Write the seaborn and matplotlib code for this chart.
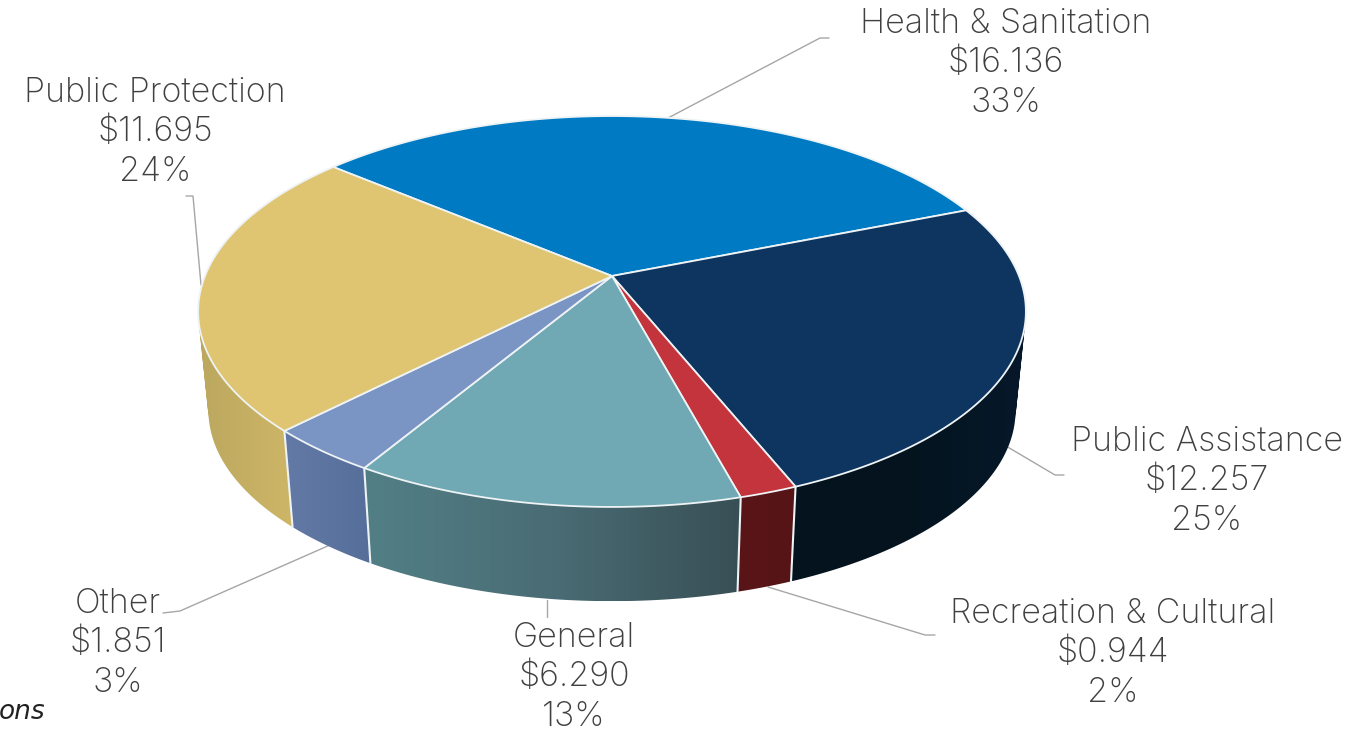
import numpy as np
import matplotlib
matplotlib.use("Agg")
import matplotlib.pyplot as plt
from matplotlib.colors import to_rgb
from matplotlib.patches import PathPatch
from matplotlib.path import Path
import seaborn as sns

# values in $ billions, clockwise from the start of Health & Sanitation
categories = ["Health & Sanitation", "Public Assistance", "Recreation & Cultural",
              "General", "Other", "Public Protection"]
amounts = [16.136, 12.257, 0.944, 6.290, 1.851, 11.695]
percents = [33, 25, 2, 13, 3, 24]

top_colors = ["#007bc3", "#0e3560", "#c4343c", "#70a8b4", "#7a94c4", "#dfc572"]
# wall shading, left to right
wall_colors = [["#005a90", "#005a90"],
               ["#04131d", "#04141f", "#06182a"],
               ["#5a1518", "#561417"],
               ["#527f86", "#4a6c74", "#384f55"],
               ["#627aa5", "#566f9a"],
               ["#bba75f", "#ceb667"]]

# label centres and leader lines, in pixels of the picture
label_x = [1006, 1207, 1113, 574, 118, 155]
label_y = [24, 442, 614, 638, 604, 93]
leaders = [[(668, 118), (820, 38), (829, 38)],
           [(1006, 446), (1055, 475), (1064, 475)],
           [(768, 587), (925, 635), (935, 635)],
           [(547, 600), (547, 617)],
           [(330, 545), (180, 611), (163, 613)],
           [(201, 285), (193, 196), (186, 196)]]

START_ANGLE = 139.9
CX, CY, BOTTOM_Y = 612, 276, 376
SCALE_X, SCALE_Y, TILT = 407, 189, 0.1816
BOTTOM_SCALE = 0.975


def project(theta, bottom=False):
    # perspective view of the unit circle, theta in degrees
    u = np.cos(np.radians(theta))
    v = np.sin(np.radians(theta))
    w = 1 + TILT * v
    if bottom:
        return (CX + BOTTOM_SCALE * SCALE_X * u / w,
                BOTTOM_Y - BOTTOM_SCALE * SCALE_Y * v / w)
    return CX + SCALE_X * u / w, CY - SCALE_Y * v / w


def wall_quad(a, b):
    pts = np.array([project(a), project(b), project(b, True), project(a, True)])
    x, y = pts[:, 0], pts[:, 1]
    # same winding for every quad, or overlaps at the silhouette cancel out
    if np.dot(x, np.roll(y, -1)) - np.dot(y, np.roll(x, -1)) < 0:
        pts = pts[::-1]
    return Path(np.vstack([pts, pts[0]]), closed=True)


sns.set_theme(style="white")
plt.rcParams["font.family"] = ["Inter", "DejaVu Sans"]

fig = plt.figure(figsize=(13.57, 7.34), dpi=100)
ax = fig.add_axes([0, 0, 1, 1])
ax.axis("off")

sweep = 360 * np.array(amounts) / sum(amounts)
edges = START_ANGLE - np.concatenate([[0], np.cumsum(sweep)])

# leader lines go under the pie
for pts in leaders:
    xs, ys = zip(*pts)
    ax.plot(xs, ys, color="#a6a6a6", lw=1, zorder=1)

# side walls, a gradient image clipped to the union of thin quads
for i in range(len(amounts)):
    thetas = np.linspace(edges[i], edges[i + 1], max(int(sweep[i] * 2), 4))
    thetas = thetas[np.sin(np.radians(thetas)) < 0.3]
    if len(thetas) < 2:
        continue
    wall = Path.make_compound_path(*[wall_quad(a, b) for a, b in zip(thetas[:-1], thetas[1:])])
    shades = sns.blend_palette(wall_colors[i], 256)
    gradient = np.array([[to_rgb(c) for c in shades]])
    img = ax.imshow(gradient, aspect="auto", interpolation="bilinear", zorder=2,
                    extent=[wall.vertices[:, 0].min(), wall.vertices[:, 0].max(),
                            wall.vertices[:, 1].max(), wall.vertices[:, 1].min()])
    img.set_clip_path(PathPatch(wall, transform=ax.transData))

# white seams on the front wall
for e in edges:
    if np.sin(np.radians(e)) < -0.2:
        x0, y0 = project(e)
        x1, y1 = project(e, True)
        ax.plot([x0, x1], [y0, y1], color="#eef3f5", lw=1.5, zorder=3)

# top face
for i in range(len(amounts)):
    thetas = np.linspace(edges[i], edges[i + 1], max(int(sweep[i] * 2), 4))
    rx, ry = project(thetas)
    xs = np.concatenate([[CX], rx])
    ys = np.concatenate([[CY], ry])
    ax.fill(xs, ys, facecolor=top_colors[i], edgecolor="#eef3f5", lw=1.3,
            joinstyle="round", zorder=4)

# labels
for i, name in enumerate(categories):
    lines = [name, "${:.3f}".format(amounts[i]), "{}%".format(percents[i])]
    for j, line in enumerate(lines):
        ax.text(label_x[i], label_y[i] + j * 39.3, line, ha="center", va="center",
                fontsize=24.5, fontweight="light", color="#404040", zorder=5)

ax.text(-1, 712, "ons", ha="left", va="center", fontsize=19, style="italic",
        family="DejaVu Sans", color="#222222", zorder=5)

ax.set_xlim(0, 1357)
ax.set_ylim(734, 0)

fig.savefig("out.png", dpi=100)
